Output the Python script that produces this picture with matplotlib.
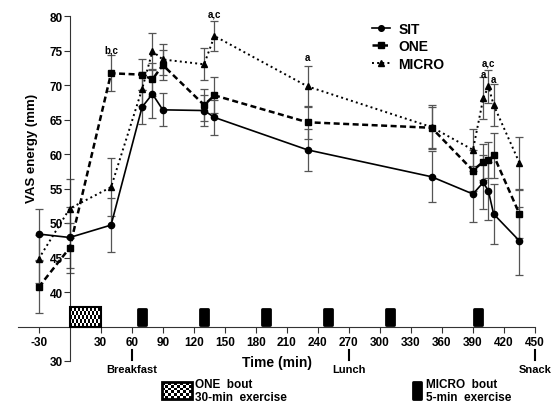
import numpy as np
import matplotlib.pyplot as plt
from matplotlib.patches import Rectangle

plt.rcParams['font.family'] = ['Liberation Sans', 'DejaVu Sans']
plt.rcParams['font.weight'] = 'bold'
plt.rcParams['axes.unicode_minus'] = False

# time points (min)
time = [-30, 0, 40, 70, 80, 90, 130, 140, 230, 350, 390, 400, 405, 410, 435]

sit = [48.4, 47.9, 49.7, 66.8, 68.7, 66.4, 66.3, 65.3, 60.6, 56.7, 54.2, 55.9, 54.6, 51.3, 47.4]
sit_se = [3.7, 4.4, 3.9, 2.5, 3.5, 2.4, 2.2, 2.5, 3.0, 3.7, 4.0, 3.9, 4.2, 4.3, 4.9]

one = [40.7, 46.4, 71.7, 71.5, 70.8, 72.9, 67.1, 68.5, 64.6, 63.8, 57.6, 58.9, 59.1, 59.8, 51.3]
one_se = [3.8, 3.6, 2.6, 2.2, 2.4, 2.2, 2.3, 2.6, 2.4, 3.0, 3.0, 2.6, 2.6, 3.3, 3.5]

micro = [44.8, 52.1, 55.2, 69.4, 74.9, 73.7, 73.0, 77.1, 69.8, 63.9, 60.6, 68.1, 69.8, 67.1, 58.7]
micro_se = [3.5, 4.3, 4.2, 2.5, 2.6, 2.3, 2.3, 2.2, 3.0, 3.2, 3.0, 3.0, 2.4, 3.1, 3.7]

# significance letters: (time, y, text)
sig_time = [40, 140, 230, 400, 405, 410]
sig_y = [75.2, 80.3, 74.1, 71.6, 73.3, 70.9]
sig_text = ['b,c', 'a,c', 'a', 'a', 'a,c', 'a']

# exercise bouts
one_bout = (0, 30)
micro_bouts = [65, 125, 185, 245, 305, 390]

xticks = [-30, 30, 60, 90, 120, 150, 180, 210, 240, 270, 300, 330, 360, 390, 420, 450]
yticks = [30, 40, 45, 50, 55, 60, 65, 70, 75, 80]

meals = [(60, 'Breakfast'), (270, 'Lunch'), (450, 'Snack')]

fig = plt.figure(figsize=(5.59, 4.10), dpi=100)
ax = fig.add_axes([18/559, 48/410, 517/559, 345/410])
ax.set_xlim(-50, 450)
ax.set_ylim(30, 80)

ebc = '#555555'
for vals, errs in [(sit, sit_se), (one, one_se), (micro, micro_se)]:
    ax.errorbar(time, vals, yerr=errs, fmt='none', ecolor=ebc, elinewidth=0.9,
                capsize=3, capthick=0.9, clip_on=False)

ax.plot(time, sit, '-', color='black', lw=1.2, marker='o', ms=4.5, label='SIT', clip_on=False, zorder=3)
ax.plot(time, one, '--', color='black', lw=1.8, marker='s', ms=5, dashes=(2.4, 1.4), label='ONE', clip_on=False, zorder=3)
ax.plot(time, micro, ':', color='black', lw=1.4, marker='^', ms=4.8, label='MICRO', clip_on=False, zorder=3)

for t, y, s in zip(sig_time, sig_y, sig_text):
    ax.text(t, y, s, ha='center', va='center', fontsize=7, fontweight='bold', clip_on=False)

# exercise bouts on the axis
checker = np.indices((5, 16)).sum(axis=0) % 2
ax.imshow(checker, cmap='gray', extent=(one_bout[0], one_bout[1], 35, 37.8), aspect='auto',
          interpolation='nearest', zorder=2)
ax.add_patch(Rectangle((one_bout[0], 35), one_bout[1] - one_bout[0], 2.8, fill=False, ec='black', lw=1.5, zorder=3))
for m in micro_bouts:
    ax.add_patch(Rectangle((m + 1, 35.25), 8, 2.3, fc='black', ec='black', lw=2, joinstyle='round', zorder=3))

# spines / axes
for s in ['top', 'right']:
    ax.spines[s].set_visible(False)
ax.spines['left'].set_position(('data', 0))
ax.spines['bottom'].set_position(('data', 35))
ax.spines['left'].set_bounds(30, 80)
ax.spines['bottom'].set_bounds(-50, 450)
ax.spines['left'].set_color('#333333')
ax.spines['bottom'].set_color('#333333')
ax.set_xticks(xticks)
ax.set_yticks(yticks)
ax.tick_params(axis='both', direction='out', length=4, width=0.8, colors='#333333', labelcolor='black', labelsize=8.5)
ax.tick_params(axis='x', pad=3)
ax.tick_params(axis='y', pad=1)
for lab in ax.get_xticklabels() + ax.get_yticklabels():
    lab.set_fontweight('bold')

ax.text(200, 29.9, 'Time (min)', ha='center', va='center', fontsize=10, fontweight='bold', clip_on=False)
ax.text(-36, 61, 'VAS energy (mm)', ha='center', va='center', rotation=90, fontsize=9.5, fontweight='bold', clip_on=False)

# meal markers below the axis
for t, name in meals:
    ax.plot([t, t], [30.1, 31.6], color='black', lw=1.5, clip_on=False)
    ax.text(t, 28.9, name, ha='center', va='center', fontsize=8, fontweight='bold', clip_on=False)

leg = ax.legend(loc='upper left', bbox_to_anchor=(0.66, 1.02), frameon=False, fontsize=10,
                handlelength=1.3, handletextpad=0.6, labelspacing=0.25, markerscale=0.9)
for txt in leg.get_texts():
    txt.set_fontweight('bold')

# bottom legend for exercise bouts
fig_ax = fig.add_axes([0, 0, 1, 1], facecolor='none')
fig_ax.set_xlim(0, 559)
fig_ax.set_ylim(410, 0)
fig_ax.axis('off')
small = np.indices((6, 10)).sum(axis=0) % 2
fig_ax.imshow(small, cmap='gray', extent=(162, 192, 400, 383), aspect='auto', interpolation='nearest')
fig_ax.add_patch(Rectangle((162, 383), 30, 17, fill=False, ec='black', lw=2))
fig_ax.text(195, 391.5, 'ONE  bout\n30-min  exercise', ha='left', va='center', fontsize=8.5,
            fontweight='bold', linespacing=1.1)
fig_ax.add_patch(Rectangle((413, 383), 8, 17, fc='black', ec='black', lw=2, joinstyle='round'))
fig_ax.text(426, 391.5, 'MICRO  bout\n5-min  exercise', ha='left', va='center', fontsize=8.5,
            fontweight='bold', linespacing=1.1)

fig.savefig('out.png', dpi=100)
